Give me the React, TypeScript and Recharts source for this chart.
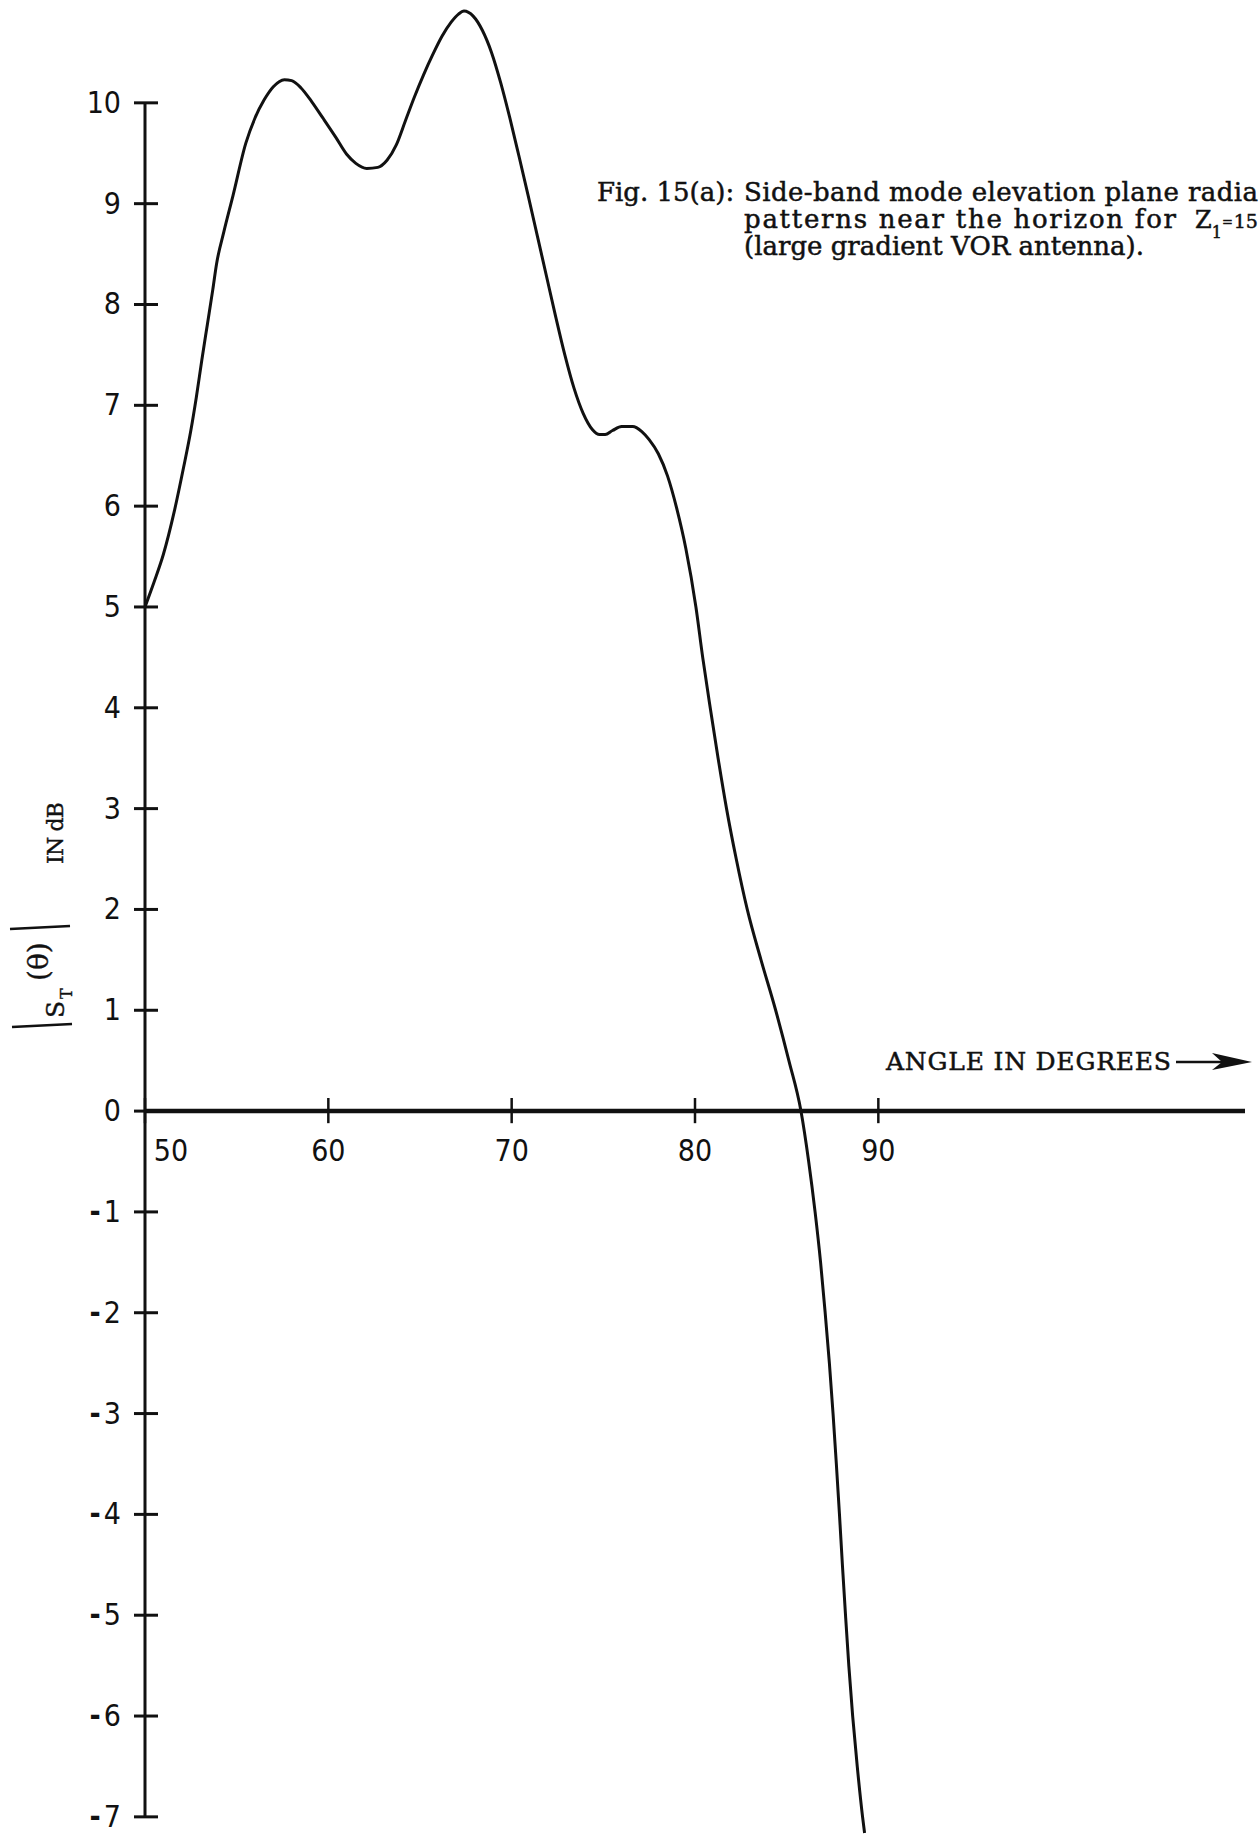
import { Line, LineChart, ReferenceLine, XAxis, YAxis } from 'recharts'

// elevation angle (degrees) and side-band pattern level |S_T(θ)| (dB)
const angles = [
  50.0, 50.5, 51.0, 51.6, 52.1, 52.5, 52.8, 53.1, 53.4, 53.7, 53.9, 54.3, 54.8, 55.5, 56.0,
  56.5, 57.0, 57.6, 58.0, 58.5, 59.1, 59.7, 60.4, 61.0, 61.5, 62.1, 62.7, 63.2, 63.7, 64.2,
  64.7, 65.2, 65.7, 66.2, 66.7, 67.1, 67.4, 67.9, 68.4, 68.9, 69.4, 69.9, 70.4, 70.9, 71.4,
  71.9, 72.4, 72.9, 73.4, 73.9, 74.4, 74.8, 75.1, 75.5, 76.0, 76.6, 77.1, 77.5, 78.0, 78.5,
  79.0, 79.5, 80.05, 80.42, 80.83, 81.26, 81.72, 82.25, 82.85, 83.6, 84.4, 85.12, 85.78, 86.2,
  86.55, 86.85, 87.1, 87.33, 87.53, 87.71, 87.88, 88.04, 88.21, 88.39, 88.6, 88.85, 89.14, 89.25,
]
const gainDb = [
  5.0, 5.25, 5.52, 5.95, 6.38, 6.75, 7.08, 7.45, 7.8, 8.15, 8.4, 8.72, 9.08, 9.6, 9.85,
  10.03, 10.16, 10.23, 10.22, 10.15, 10.01, 9.85, 9.66, 9.49, 9.4, 9.35, 9.36, 9.43, 9.58, 9.82,
  10.06, 10.28, 10.48, 10.66, 10.8, 10.88, 10.91, 10.86, 10.72, 10.5, 10.2, 9.85, 9.47, 9.08, 8.68,
  8.28, 7.88, 7.5, 7.17, 6.92, 6.76, 6.71, 6.71, 6.75, 6.79, 6.79, 6.74, 6.66, 6.52, 6.3,
  5.98, 5.58, 5.0, 4.5, 4.0, 3.5, 3.0, 2.5, 2.0, 1.5, 1.0, 0.5, 0.0, -0.5,
  -1.0, -1.5, -2.0, -2.5, -3.0, -3.5, -4.0, -4.5, -5.0, -5.5, -6.0, -6.5, -7.0, -7.16,
]
const yTicks = [10, 9, 8, 7, 6, 5, 4, 3, 2, 1, 0, -1, -2, -3, -4, -5, -6, -7]
const xTicks = [50, 60, 70, 80, 90]

const data = angles.map((a, i) => ({ angle: a, gain: gainDb[i] }))

const W = 1260
const H = 1834
const INK = '#111'
const numFont = '"Liberation Sans Narrow", "DejaVu Sans Condensed", sans-serif'
const serif = '"DejaVu Serif", "Liberation Serif", serif'

function YTick(props: any) {
  const { x, y, payload } = props
  const v = payload.value as number
  return (
    <g>
      <line x1={x - 11} x2={x + 13} y1={y} y2={y} stroke={INK} strokeWidth={3} />
      <text x={x - 24} y={y + 10} textAnchor="end" fontFamily={numFont} fontSize={30} fill={INK}>
        {v < 0 ? (
          <>
            <tspan fontWeight="bold">-</tspan>
            <tspan dx={3}>{Math.abs(v)}</tspan>
          </>
        ) : (
          v
        )}
      </text>
    </g>
  )
}

function xTickLabel(value: number, shift: number) {
  return (p: any) => {
    const vb = p.viewBox || { x: 0, y: 0, height: 0 }
    return (
      <text
        x={vb.x + shift}
        y={vb.y + vb.height + 38}
        textAnchor="middle"
        fontFamily={numFont}
        fontSize={30}
        fill={INK}
      >
        {value}
      </text>
    )
  }
}

export default function App() {
  return (
    <div
      style={{
        position: 'absolute',
        left: 0,
        top: 0,
        width: W,
        height: H,
        overflow: 'hidden',
        background: '#fff',
      }}
    >
      <LineChart width={W} height={H} data={data} margin={{ top: 0, right: 15, bottom: 0, left: 0 }}>
        <XAxis dataKey="angle" type="number" domain={[50, 110]} hide />
        <YAxis
          type="number"
          domain={[-7.17, 11.02]}
          ticks={yTicks}
          interval={0}
          width={145}
          axisLine={false}
          tickLine={false}
          tickSize={0}
          tickMargin={0}
          tick={(p: any) => <YTick {...p} />}
        />
        {/* axes drawn through the origin */}
        <ReferenceLine segment={[{ x: 50, y: -7 }, { x: 50, y: 10 }]} stroke={INK} strokeWidth={3} />
        <ReferenceLine segment={[{ x: 50, y: 0 }, { x: 110, y: 0 }]} stroke={INK} strokeWidth={4.5} />
        {xTicks.map((t) => (
          <ReferenceLine
            key={t}
            segment={[{ x: t, y: -0.12 }, { x: t, y: 0.13 }]}
            stroke={INK}
            strokeWidth={2.5}
            label={{ content: xTickLabel(t, t === 50 ? 26 : 0) }}
          />
        ))}
        <Line
          type="monotone"
          dataKey="gain"
          stroke={INK}
          strokeWidth={3}
          dot={false}
          isAnimationActive={false}
        />
      </LineChart>

      <svg
        width={W}
        height={H}
        style={{ position: 'absolute', left: 0, top: 0, pointerEvents: 'none' }}
      >
        <g fontFamily={serif} fill={INK} stroke={INK} strokeWidth={0.5}>
          <text x={597} y={201} fontSize={26}>
            Fig. 15(a):
          </text>
          <text x={744} y={201} fontSize={26} textLength={514}>
            Side-band mode elevation plane radia
          </text>
          <text x={744} y={228} fontSize={26} textLength={432}>
            patterns near the horizon for
          </text>
          <text x={1195} y={228} fontSize={24}>
            Z
            <tspan dy={10} fontSize={16}>
              1
            </tspan>
            <tspan dy={-12} fontSize={13}>
              =
            </tspan>
            <tspan dy={2} dx={1} fontSize={19}>
              15
            </tspan>
          </text>
          <text x={744} y={255} fontSize={26}>
            (large gradient VOR antenna).
          </text>

          <text x={886} y={1070} fontSize={25} textLength={285}>
            ANGLE IN DEGREES
          </text>
        </g>
        <line x1={1176} y1={1062} x2={1222} y2={1062} stroke={INK} strokeWidth={2.5} />
        <path d="M1252,1062 L1212,1053 L1222,1062 L1212,1070 Z" fill={INK} />

        {/* y-axis title |S_T(θ)| IN dB, rotated */}
        <g fontFamily={serif} fill={INK} stroke={INK} strokeWidth={0.4}>
          <line x1={12} y1={1027} x2={72} y2={1024} strokeWidth={2.5} />
          <text transform="translate(64,1018) rotate(-90)" fontSize={25}>
            S
          </text>
          <text transform="translate(72,999) rotate(-90)" fontSize={16}>
            T
          </text>
          <text transform="translate(48,981) rotate(-90)" fontSize={28}>
            (θ)
          </text>
          <line x1={10} y1={929} x2={70} y2={926} strokeWidth={2.5} />
          <text transform="translate(63,864) rotate(-90)" fontSize={22} textLength={62}>
            IN dB
          </text>
        </g>
      </svg>
    </div>
  )
}
